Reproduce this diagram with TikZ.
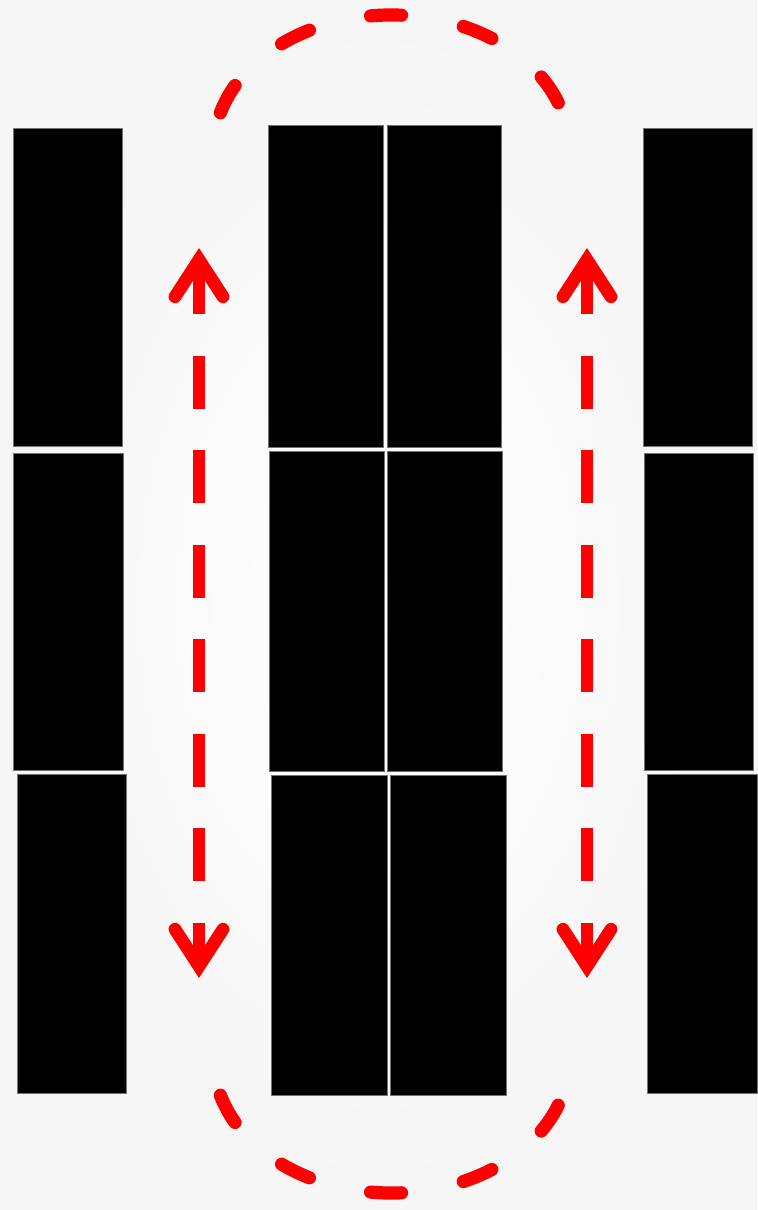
\documentclass[tikz,border=0pt]{standalone}
\usepackage{tikz}
\usetikzlibrary{arrows.meta, positioning}
\tikzset{
  loopbarb/.tip={Straight Barb[length=18.5pt, width=24pt, line cap=round, line join=miter]},
  slabbox/.style={
    rectangle, inner sep=0pt, outer sep=0pt,
    fill=black, draw=black!55, line width=0.5pt
  },
  looparrow/.style={loopbarb-loopbarb, draw=red, line width=6.4pt,
    dash pattern=on 26.5pt off 20.75pt, dash phase=2.5pt},
  looparc/.style={draw=red, line width=6.6pt, line cap=round,
    dash pattern=on 15.5pt off 31.5pt},
}

\begin{document}
\begin{tikzpicture}[x=0.5pt, y=-0.5pt]
  \useasboundingbox (0,0) rectangle (757,1210);
  \shade[inner color=white, outer color=black!4] (0,0) rectangle (757,1210);

  % outer columns
  \node[slabbox, minimum width=54.5pt, minimum height=159pt]   (l1) at (67.5,287)  {};
  \node[slabbox, minimum width=55pt,   minimum height=158.5pt] (l2) at (68,611.5)  {};
  \node[slabbox, minimum width=54.5pt, minimum height=159.5pt] (l3) at (71.5,933.5) {};
  \node[slabbox, minimum width=54.5pt, minimum height=159pt]   (r1) at (697.5,287) {};
  \node[slabbox, minimum width=54.5pt, minimum height=158.5pt] (r2) at (698.5,611.5) {};
  \node[slabbox, minimum width=55pt,   minimum height=159.5pt] (r3) at (702,933.5) {};

  % middle pair
  \node[slabbox, minimum width=57.5pt, minimum height=161pt] (ma1) at (325.5,286) {};
  \node[slabbox, minimum width=57.5pt, minimum height=160pt] (ma2) at (326.5,611) {};
  \node[slabbox, minimum width=58pt,   minimum height=160pt] (ma3) at (329,935)   {};
  \node[slabbox, minimum width=57pt,   minimum height=161pt] (mb1) at (444,286)   {};
  \node[slabbox, minimum width=57.5pt, minimum height=160pt] (mb2) at (444.5,611) {};
  \node[slabbox, minimum width=58pt,   minimum height=160pt] (mb3) at (448,935)   {};

  % loop
  \coordinate (lt) at (199,248);
  \coordinate (lb) at (199,978);
  \coordinate (rt) at (587,248);
  \coordinate (rb) at (587,978);
  \draw[looparrow] (lt) -- (lb);
  \draw[looparrow] (rt) -- (rb);

  \coordinate (topc) at (391.5,150);
  \coordinate (botc) at (391.5,1058);
  \draw[looparc] ([shift={(196:178 and 135)}]topc)
    arc[start angle=196, end angle=344, x radius=178, y radius=135];
  \draw[looparc] ([shift={(164:178 and 135)}]botc)
    arc[start angle=164, end angle=16, x radius=178, y radius=135];
\end{tikzpicture}
\end{document}
